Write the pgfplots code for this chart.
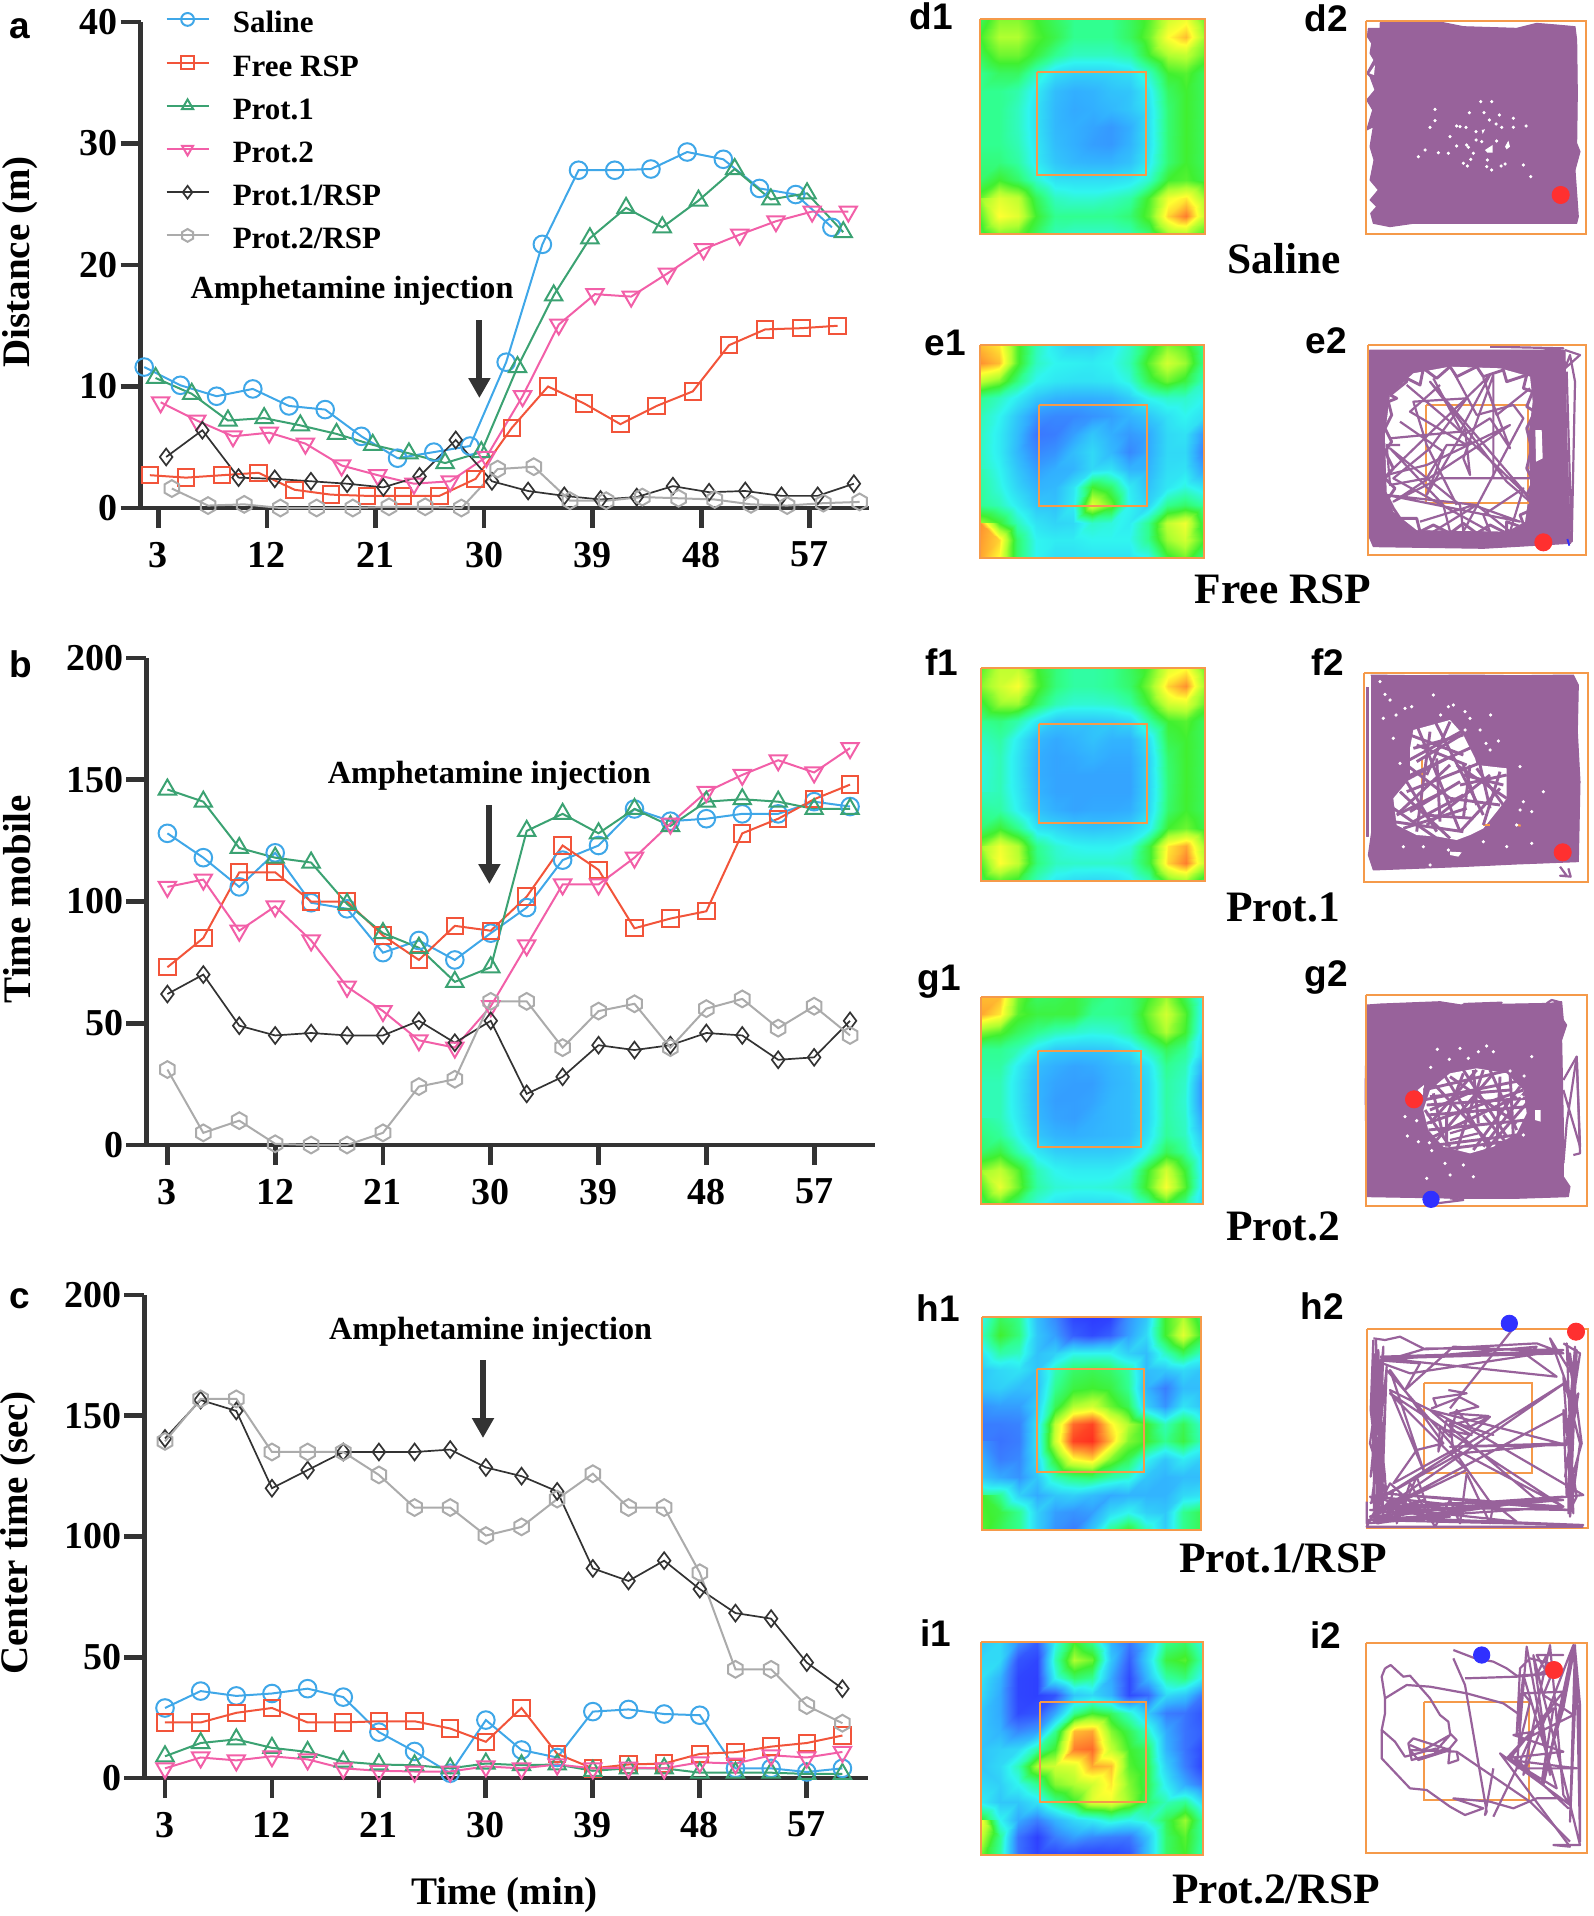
\documentclass[border=0pt]{standalone}
\usepackage{pgfplots}
\usepackage{pgfplotstable}
\usepackage{fontspec}
\pgfplotsset{compat=1.18}
\usetikzlibrary{arrows.meta}
\setmainfont{Liberation Serif}
\newfontfamily\sansb{Liberation Sans}
\definecolor{dk}{HTML}{333333}
\definecolor{csal}{HTML}{3FA7E8}
\definecolor{cfre}{HTML}{F2543A}
\definecolor{cpa}{HTML}{3BA272}
\definecolor{cpb}{HTML}{F25FA8}
\definecolor{cpc}{HTML}{333333}
\definecolor{cpd}{HTML}{ABABAB}
\definecolor{pur}{HTML}{98629B}
\definecolor{boxo}{HTML}{F59A4A}
\definecolor{dotr}{HTML}{FF3030}
\definecolor{dotb}{HTML}{3030FF}
\pgfdeclareplotmark{hexa}{%
  \pgfpathmoveto{\pgfqpointpolar{90}{\pgfplotmarksize}}%
  \pgfpathlineto{\pgfqpointpolar{150}{\pgfplotmarksize}}%
  \pgfpathlineto{\pgfqpointpolar{210}{\pgfplotmarksize}}%
  \pgfpathlineto{\pgfqpointpolar{270}{\pgfplotmarksize}}%
  \pgfpathlineto{\pgfqpointpolar{330}{\pgfplotmarksize}}%
  \pgfpathlineto{\pgfqpointpolar{30}{\pgfplotmarksize}}%
  \pgfpathclose\pgfusepathqstroke}
\pgfplotsset{
  colormap={jetx}{rgb255(0pt)=(42,44,255) rgb255(15pt)=(58,120,255) rgb255(25pt)=(50,175,255) rgb255(40pt)=(48,245,240) rgb255(50pt)=(48,255,144) rgb255(60pt)=(64,240,48) rgb255(70pt)=(176,255,48) rgb255(80pt)=(255,255,48) rgb255(90pt)=(255,144,48) rgb255(100pt)=(255,48,32)},
  sSal/.style={color=csal,line width=1pt,mark=o,mark size=4.4pt,mark options={solid,fill=none}},
  sFre/.style={color=cfre,line width=1pt,mark=square,mark size=4.1pt,mark options={solid,fill=none}},
  sPa/.style={color=cpa,line width=1pt,mark=triangle,mark size=5pt,mark options={solid,fill=none}},
  sPb/.style={color=cpb,line width=1pt,mark=triangle,mark size=5pt,mark options={solid,fill=none,rotate=180}},
  sPc/.style={color=cpc,line width=.85pt,mark=diamond,mark size=4.2pt,mark options={solid,fill=none}},
  sPd/.style={color=cpd,line width=1pt,mark=hexa,mark size=4.2pt,mark options={solid,fill=none}},
  mainax/.style={scale only axis,clip=false,axis x line=bottom,axis y line=left,
    axis line style={-,line width=2.4pt,color=dk},
    tick style={line width=2.4pt,color=dk},major tick length=10pt,tick align=outside,
    xtick={3,12,21,30,39,48,57},
    ticklabel style={font=\bfseries\fontsize{19}{19}\selectfont,color=black},
    /pgf/number format/assume math mode=true,
    xticklabel style={yshift=-3.5pt},yticklabel style={xshift=2pt}},
  heat/.style={scale only axis,hide axis,xmin=0,xmax=12,ymin=0,ymax=12,y dir=reverse,clip=false,colormap name=jetx,point meta min=0,point meta max=10},
  traj/.style={scale only axis,hide axis,width=122pt,height=115pt,xmin=0,xmax=732,ymin=0,ymax=690,y dir=reverse,clip=false},
  tr/.style={draw=pur,line width=1.1pt,line join=round,no markers},
  trw/.style={draw=pur,line width=1.45pt,line join=round,no markers},
  bl/.style={fill=pur,draw=pur,line width=.5pt,line join=round,no markers},
  ho/.style={fill=white,draw=none,no markers},
  sp/.style={only marks,mark=*,mark size=.6pt,color=white,mark options={fill=white,draw=white}},
  bx/.style={draw=boxo,line width=1.1pt,line join=miter,no markers},
  dr/.style={only marks,mark=*,mark size=4.3pt,color=dotr,mark options={fill=dotr,draw=dotr}},
  db/.style={only marks,mark=*,mark size=4.1pt,color=dotb,mark options={fill=dotb,draw=dotb}},
}
\newcommand\hm[1]{\addplot[surf,shader=interp,mesh/cols=13,point meta=explicit] table[row sep=crcr,header=false,x expr={mod(\coordindex,13)},y expr={floor(\coordindex/13)},meta index=0]{#1};}
\newcommand\frm[4]{\addplot[bx] coordinates {(0,0)(12,0)(12,12)(0,12)(0,0)};\addplot[bx] coordinates {(#1,#3)(#2,#3)(#2,#4)(#1,#4)(#1,#3)};}
\pgfplotstableread{
t sal fre pa pb pc pd
3 11.6 2.7 10.7 8.7 4.2 1.6
6 10.1 2.5 9.4 7.2 6.4 0.2
9 9.2 2.7 7.2 5.9 2.5 0.3
12 9.8 2.9 7.4 6.2 2.4 0.0
15 8.4 1.5 6.8 5.3 2.2 0.0
18 8.1 1.1 6.1 3.5 2.0 0.0
21 5.9 1.0 5.2 2.7 1.7 0.1
24 4.1 1.0 4.5 2.0 2.6 0.1
27 4.6 1.0 3.7 2.2 5.6 0.0
30 5.1 2.4 4.6 4.2 2.2 3.2
33 12.0 6.6 11.6 9.2 1.4 3.4
36 21.7 10.0 17.5 15.1 1.0 0.6
39 27.8 8.6 22.2 17.6 0.7 0.6
42 27.8 6.9 24.7 17.4 0.9 0.9
45 27.9 8.4 23.1 19.3 1.8 0.8
48 29.3 9.6 25.3 21.3 1.3 0.7
51 28.7 13.4 27.9 22.5 1.4 0.3
54 26.3 14.7 25.4 23.6 1.0 0.2
57 25.8 14.8 25.9 24.4 1.0 0.4
60 23.1 15.0 22.7 24.4 2.0 0.5
}\dataA
\pgfplotstableread{
t sal fre pa pb pc pd
3 128 73 146 106 62 31
6 118 85 141 109 70 5
9 106 112 122 88 49 10
12 120 112 118 98 45 0.5
15 99.5 100 116 84 46 0
18 97 100 99 65 45 0
21 79 86 87 55 45 5
24 84 76 81 43 51 24
27 76 90 67 40 42 27
30 87 88 73 57 51 59
33 97.5 102 129 82 21 59
36 117 123 136 107 28 40
39 123 113 128 107 41 55
42 138 89 138 118 39 58
45 133 93 131 132 41 40
48 134 96 141 145 46 56
51 136 128 142 152 45 60
54 136 134 141 158 35 48
57 141 142 138 153 36 57
60 139 148 138 163 51 45
}\dataB
\pgfplotstableread{
t sal fre pa pb pc pd
3 29 23 9 4 140.6 139.4
6 36 23 14.5 8.5 156.5 157
9 34 27 16 7.3 152 157
12 35 29 12.5 9 120 135
15 37 23 10.8 7.7 127.5 135
18 33.5 23 6.8 4 135 135
21 19 23.5 5.6 3 135 125.5
24 11 23.5 5.3 2.7 135 112
27 2 20.5 4 2.7 136 112
30 24 15 6 4.8 128.6 100.4
33 11.6 29 5.3 4 125 104
36 8.5 10 5.6 5.6 118.7 115.5
39 27.5 4 3 4 86.8 126
42 28.4 5.6 4 4.3 81.6 112
45 26.5 6 4 4 90 112
48 26 10 2.2 6.5 78.2 85
51 4 10.7 2.2 6 68.3 45
54 4 13 2.2 9.4 66 45
57 2.5 14.5 1.7 8.5 47.8 30
60 4 17.6 1.7 10.8 37 22.7
}\dataC
\begin{document}
\begin{tikzpicture}
\path[use as bounding box] (0pt,0pt) rectangle (797pt,-958pt);
% ---------- a
\begin{axis}[mainax,at={(70.3pt,-254pt)},anchor=origin,width=364pt,height=243pt,
  xmin=1.53,xmax=61.87,ymin=0,ymax=40,ytick={0,10,20,30,40},
  legend style={at={(axis cs:3.6,41.9)},anchor=north west,draw=none,fill=none,inner sep=0pt,outer sep=0pt,row sep=1.1pt,
    font=\bfseries\fontsize{15.5}{15.5}\selectfont,cells={anchor=west,text height=15pt,text depth=8pt},
    /tikz/every odd column/.append style={column sep=9.6pt}},
  legend image code/.code={\draw[mark repeat=2,mark phase=2,#1,mark size=3.2pt] plot coordinates {(0pt,0pt)(10.5pt,0pt)(21pt,0pt)};},
  legend cell align=left]
\addplot[sSal] table[x expr=\thisrow{t}-1.17,y=sal]{\dataA};
\addplot[sFre] table[x expr=\thisrow{t}-0.70,y=fre]{\dataA};
\addplot[sPa] table[x expr=\thisrow{t}-0.23,y=pa]{\dataA};
\addplot[sPb] table[x expr=\thisrow{t}+0.19,y=pb]{\dataA};
\addplot[sPc] table[x expr=\thisrow{t}+0.65,y=pc]{\dataA};
\addplot[sPd] table[x expr=\thisrow{t}+1.12,y=pd]{\dataA};
\legend{Saline,Free RSP,Prot.1,Prot.2,Prot.1/RSP,Prot.2/RSP}
\end{axis}
% ---------- b
\begin{axis}[mainax,at={(73.1pt,-572.5pt)},anchor=origin,width=364.5pt,height=243.5pt,
  xmin=1.23,xmax=62.1,ymin=0,ymax=200,ytick={0,50,100,150,200}]
\addplot[sSal] table[x=t,y=sal]{\dataB};
\addplot[sFre] table[x=t,y=fre]{\dataB};
\addplot[sPa] table[x=t,y=pa]{\dataB};
\addplot[sPb] table[x=t,y=pb]{\dataB};
\addplot[sPc] table[x=t,y=pc]{\dataB};
\addplot[sPd] table[x=t,y=pd]{\dataB};
\end{axis}
% ---------- c
\begin{axis}[mainax,at={(72.1pt,-889pt)},anchor=origin,width=362pt,height=241.5pt,
  xmin=1.25,xmax=62.17,ymin=0,ymax=200,ytick={0,50,100,150,200}]
\addplot[sSal] table[x=t,y=sal]{\dataC};
\addplot[sFre] table[x=t,y=fre]{\dataC};
\addplot[sPa] table[x=t,y=pa]{\dataC};
\addplot[sPb] table[x=t,y=pb]{\dataC};
\addplot[sPc] table[x=t,y=pc]{\dataC};
\addplot[sPd] table[x=t,y=pd]{\dataC};
\end{axis}
% ---------- heat maps
\begin{axis}[heat,at={(490pt,-9.5pt)},anchor=north west,width=112.5pt,height=107.5pt]
\hm{5.5\\6.6\\6.6\\6\\5.5\\5\\5\\5\\5.5\\6.2\\7.4\\7.8\\6.3\\
6\\7\\7\\6.2\\5.7\\5\\5\\5\\5.5\\6.4\\8\\8.6\\6.8\\
5.6\\6.4\\6.4\\5.8\\5\\4.5\\4.5\\4.5\\4.8\\6\\7\\7.2\\6.3\\
5\\5.5\\5.5\\4.5\\3.5\\3.2\\3.2\\3.3\\3.5\\4.5\\6\\6.2\\5.5\\
5\\5\\4.7\\3.8\\2.8\\2.5\\2.6\\2.9\\3\\3.8\\5.5\\6\\5.5\\
5\\5\\4.5\\3.6\\2.7\\2.4\\2.5\\2.7\\3\\3.6\\5.3\\6\\5.5\\
5\\5\\4.5\\3.6\\2.7\\2.5\\2.3\\2.1\\2.5\\3.6\\5.3\\6\\5.5\\
5\\5\\4.6\\3.7\\2.8\\2.5\\2.2\\2.1\\2.6\\3.6\\5.3\\6\\5.5\\
5\\5.2\\4.8\\3.8\\3\\2.7\\2.6\\2.6\\2.9\\3.8\\5.3\\6\\5.5\\
5.4\\6\\5.4\\4.4\\3.6\\3.5\\3.5\\3.5\\3.7\\4.4\\6\\6.2\\5.7\\
6.3\\7.6\\7.2\\5.6\\4.5\\4.3\\4.3\\4.5\\4.8\\6.1\\7.8\\8.2\\6.8\\
6.7\\8\\7.6\\6\\5\\5\\5\\5\\5.3\\6.3\\8.4\\9.2\\7.2\\
5.6\\6.6\\6.4\\5.5\\4.6\\4.4\\4.4\\4.4\\4.6\\5.3\\6.8\\7\\6\\}
\frm{3.04}{8.85}{2.96}{8.70}
\end{axis}
\begin{axis}[heat,at={(490pt,-172.5pt)},anchor=north west,width=112pt,height=106.5pt]
\hm{8.6\\8.2\\6.2\\4.6\\3.7\\3.2\\3.2\\3.7\\4.4\\5.6\\6.6\\6.2\\4.8\\
9\\8.6\\6.2\\4.5\\4\\3.9\\3.8\\4\\4.6\\6.2\\7.4\\6.8\\5\\
7.2\\6.6\\5.2\\4\\3.7\\3.6\\3.6\\3.7\\4.2\\5.6\\6.4\\5.8\\4.5\\
5\\4.5\\3.8\\3\\2.6\\2.5\\2.5\\2.6\\3.1\\4\\4.4\\4.4\\4\\
4.6\\4\\3\\2\\1.8\\1.8\\2\\2.2\\2.6\\3\\3.6\\4\\3.5\\
4.5\\3.8\\2.8\\1.5\\1.6\\2.2\\3\\2.5\\2.1\\2.4\\3.4\\3.6\\2\\
4.5\\3.8\\2.7\\1.8\\2\\2.8\\3.4\\2.7\\1.8\\2.4\\3.4\\3.4\\1.6\\
4.6\\4\\3\\2.2\\2.5\\2.6\\3.4\\3.6\\2.6\\2.6\\3.5\\3.6\\2.2\\
4.7\\4.2\\3.3\\2.6\\2.7\\3.6\\6\\5.4\\3.8\\2.9\\3.7\\4.2\\3.6\\
5\\4.6\\3.8\\3\\2.9\\3.8\\7.6\\6.4\\4\\3.3\\5\\5.4\\4.8\\
6.8\\6\\4.6\\3.6\\3.3\\3.4\\4.4\\4.2\\3.8\\5\\7.2\\7.8\\5.6\\
9\\8.4\\5.4\\4\\3.8\\3.8\\4\\4\\4\\5\\6.8\\7.4\\6\\
8.8\\8\\5.4\\4\\3.5\\3.5\\3.6\\3.6\\3.6\\4\\5.8\\6.4\\5\\}
\frm{3.16}{8.95}{3.38}{9.07}
\end{axis}
\begin{axis}[heat,at={(490.5pt,-334pt)},anchor=north west,width=112pt,height=106.5pt]
\hm{6.2\\7.2\\7.2\\6\\5.2\\4.8\\4.8\\5\\5.5\\6.2\\7.6\\8\\6.3\\
6.6\\7.4\\7.9\\6.2\\5.2\\4.8\\4.8\\5\\5.4\\6.6\\8.4\\9\\6.8\\
5.8\\6.8\\6.8\\5.5\\4.6\\4.3\\4.3\\4.4\\4.8\\6\\7.4\\7.6\\6.3\\
5\\5.2\\4.7\\3.7\\3\\3\\3\\3.1\\3.4\\4.8\\6\\6.2\\5.5\\
4.5\\4.8\\3.8\\2.7\\2.4\\2.6\\2.9\\2.6\\2.6\\3.6\\5.7\\6\\5.5\\
4.2\\4.6\\3.6\\2.5\\2.3\\2.4\\2.6\\2.4\\2.4\\3.3\\5.4\\6\\5.5\\
4.2\\4.6\\3.6\\2.5\\2.3\\2.3\\2.3\\2.3\\2.3\\3.3\\5.3\\6\\5.5\\
4.3\\4.6\\3.7\\2.6\\2.3\\2.3\\2.3\\2.3\\2.3\\3.3\\5.3\\6\\5.5\\
4.5\\4.8\\3.9\\2.9\\2.5\\2.3\\2.4\\2.4\\2.5\\3.4\\5.4\\6\\5.5\\
5.3\\5.9\\5\\3.6\\3.3\\3\\2.9\\3\\3.2\\3.9\\6\\6.4\\5.7\\
6.6\\7.8\\7\\5\\4.3\\4\\3.9\\3.9\\4.2\\5.8\\8.2\\8.8\\6.8\\
6.8\\8\\7.2\\5.2\\4.5\\4.4\\4.4\\4.4\\4.6\\5.8\\8.4\\9.2\\7.2\\
5.5\\6.2\\5.8\\4.5\\3.7\\3.4\\3.3\\3.4\\3.8\\4.6\\6.4\\6.8\\5.5\\}
\frm{3.11}{8.89}{3.15}{8.73}
\end{axis}
\begin{axis}[heat,at={(490.5pt,-498.5pt)},anchor=north west,width=111pt,height=103.5pt]
\hm{8.6\\8.6\\6.4\\5.5\\5.6\\5.8\\5.3\\5\\5.2\\6\\6.8\\5.6\\3.8\\
8.8\\8.2\\6.2\\5.8\\5.8\\5.8\\5\\5\\5.2\\6.4\\7.4\\6.2\\3.8\\
6.6\\6.2\\5.5\\5\\4.6\\4.4\\4.2\\4.3\\4.8\\6\\7\\6\\3.6\\
5\\5\\4.6\\3.7\\3.1\\3\\3\\3.1\\3.5\\4.6\\5.6\\5\\3.4\\
4.8\\4.8\\3.8\\2.8\\2.5\\2.3\\2.4\\2.7\\2.9\\3.6\\5\\4.6\\2.4\\
4.6\\4.6\\3.6\\2.6\\2.3\\2.2\\2.2\\2.6\\2.8\\3.4\\4.8\\4.4\\1.8\\
4.6\\4.6\\3.6\\2.6\\2.2\\2.2\\2.3\\2.7\\2.8\\3.4\\4.8\\4.3\\1.8\\
4.6\\4.6\\3.7\\2.7\\2.3\\2.2\\2.5\\2.7\\2.8\\3.4\\4.8\\4.4\\2.2\\
4.9\\4.9\\4\\3\\2.6\\2.5\\2.6\\2.7\\2.8\\3.6\\4.9\\4.5\\2.8\\
5.4\\5.8\\4.7\\3.7\\3.2\\3.1\\3.1\\3.1\\3.3\\4.2\\5.6\\4.9\\3.4\\
6.6\\7.2\\6.2\\4.6\\4\\3.8\\3.8\\3.8\\4.2\\6\\7.4\\5.9\\3.6\\
6.8\\7.7\\6.4\\4.8\\4.3\\4.2\\4.2\\4.3\\4.6\\6.2\\7.9\\6.2\\3.6\\
5.5\\6.2\\5.2\\4.2\\3.6\\3.4\\3.4\\3.4\\3.7\\4.8\\6\\5\\3.4\\}
\frm{3.08}{8.65}{3.13}{8.70}
\end{axis}
\begin{axis}[heat,at={(491pt,-658.5pt)},anchor=north west,width=109.5pt,height=106.5pt]
\hm{4\\5.5\\5\\2.8\\1.8\\0.5\\0.3\\0.4\\2\\3\\6\\7\\5.5\\
4.5\\6\\5.2\\3\\2.2\\1\\0.6\\1\\2.2\\3.4\\6\\7.6\\6\\
3.7\\4.8\\4.5\\2.9\\3.2\\4\\4\\4\\3.2\\2.8\\4.5\\5.6\\4.5\\
3\\3.4\\3.6\\3\\4.6\\5.4\\5.6\\5.4\\4.8\\2.8\\3\\3.4\\3\\
3\\3.2\\2.8\\2.9\\5\\5.8\\6\\5.8\\5\\2.6\\1.6\\2.8\\2.8\\
2\\2.2\\2.2\\3.2\\5.6\\7\\7.4\\6.4\\5.6\\3.2\\2\\3.6\\3\\
1.6\\1.6\\1.7\\3.6\\7.2\\9.4\\9.8\\8.2\\7\\6\\4.6\\5.6\\4.4\\
1.6\\1.4\\1.6\\3.6\\7.4\\9.8\\10\\8.6\\6.6\\6\\5\\5.8\\4.6\\
2\\1.6\\1.8\\3.4\\6\\8\\8.4\\6.6\\5.6\\4\\3\\3.8\\3.2\\
3\\2.4\\2\\3\\4.6\\5.2\\5.4\\4.8\\4.4\\3\\2.6\\2.8\\2.8\\
5\\5\\3.2\\2.4\\3\\3.2\\2.8\\2.4\\2.6\\2.6\\2.6\\3.4\\3.6\\
6\\5.8\\5\\3.2\\2.2\\2\\2.2\\3.4\\4\\3.2\\3\\5\\5.6\\
6.2\\5.6\\5\\3.2\\2\\1.6\\3\\5\\6\\4.6\\3.2\\5\\5.6\\}
\frm{3.01}{8.88}{2.93}{8.73}
\end{axis}
\begin{axis}[heat,at={(490.5pt,-821pt)},anchor=north west,width=111pt,height=106.5pt]
\hm{3\\3.4\\2\\1\\4\\6\\5\\2.6\\1.5\\3\\5\\5.4\\4\\
3.4\\3.4\\0.8\\0.5\\4.6\\7\\6.4\\3\\1\\3.4\\5.8\\6.2\\4.6\\
3.6\\2.6\\0.5\\0.4\\4\\5.4\\5\\2.4\\0.6\\2.8\\4.8\\5.2\\3.8\\
3.4\\2.4\\0.5\\0.4\\0.8\\3\\3.4\\2.6\\0.6\\1.2\\3.4\\3\\1.5\\
3\\2.4\\0.6\\0.8\\2.4\\5\\6\\5.5\\4.4\\3\\1.6\\1.4\\0.8\\
3\\2.6\\1.8\\2.2\\5\\8.6\\8.8\\6.6\\5.6\\4.4\\2.4\\1.4\\1\\
3\\3.2\\3.4\\4.8\\6\\9.2\\9.4\\7.2\\6\\5.4\\2.6\\1.4\\0.5\\
3\\3.4\\4.6\\7\\7.4\\7.6\\8.8\\8.6\\6.2\\5.6\\3.2\\1.6\\0.4\\
3\\3.2\\4\\5\\6.6\\7\\7.4\\8.2\\6.6\\5.6\\3.8\\2.4\\1.4\\
3.8\\3\\3\\3.6\\5\\6\\7.6\\7.8\\6.8\\5.4\\4.6\\5\\3.4\\
6\\4\\2.4\\1.6\\2.6\\3.4\\3.8\\4.4\\4\\4.4\\5.6\\6.8\\4.8\\
8\\5\\1.4\\0.4\\1.6\\2.2\\1.8\\1.6\\1.5\\3\\5.4\\6.2\\4.8\\
6.5\\4.8\\1.4\\0.5\\0.5\\0.5\\0.4\\0.5\\0.8\\3\\5.4\\6\\4.6\\}
\frm{3.19}{8.92}{3.38}{9.01}
\end{axis}
% ---------- d2
\begin{axis}[traj,at={(675pt,-5pt)},anchor=north west]
\addplot[bl] coordinates {(90,38)(280,38)(340,50)(500,55)(560,40)(620,45)(675,50)(680,90)(682,250)(680,400)(690,425)(675,480)(685,620)(680,640)(540,640)(400,640)(300,640)(190,640)(120,650)(70,640)(62,610)(80,590)(60,570)(85,540)(60,510)(72,450)(60,410)(70,350)(50,360)(68,300)(50,270)(75,240)(60,200)(50,190)(72,150)(60,130)(65,100)(52,80)(55,55)(90,55)(90,38)};
\addplot[ho] coordinates {(58,190)(75,165)(72,195)};
\addplot[ho] coordinates {(395,360)(405,358)(398,372)};
\addplot[ho] coordinates {(405,420)(428,405)(428,428)(412,428)};
\addplot[ho] coordinates {(465,410)(475,392)(480,410)(470,418)};
\addplot[sp] coordinates {(425,275)(392,275)(358,308)(402,308)(255,298)(255,332)(240,352)(348,352)(320,348)(330,350)(378,365)(378,390)(395,395)(440,393)(455,352)(490,352)(528,348)(490,325)(418,330)(438,342)(448,315)(300,380)(320,408)(350,405)(355,412)(370,430)(225,420)(205,440)(340,460)(362,448)(352,468)(412,450)(410,470)(425,480)(453,468)(465,462)(520,465)(542,500)(295,430)(265,428)};
\addplot[bx] coordinates {(48,33)(708,33)(708,672)(48,672)(48,33)};
\addplot[dr] coordinates {(632,555)};
\end{axis}
% ---------- e2
\begin{axis}[traj,at={(675pt,-167.5pt)},anchor=north west]
\addplot[bl] coordinates {(58,45)(645,45)(650,300)(662,625)(400,640)(70,635)(55,600)(55,45)};
\addplot[ho] coordinates {(190,115)(300,95)(450,100)(540,125)(548,200)(535,300)(540,450)(525,560)(470,590)(200,585)(130,530)(110,470)(105,300)(120,180)};
\addplot[ho] coordinates {(556,285)(575,285)(578,370)(558,380)};
\addplot[bx] coordinates {(228,210)(535,210)(535,505)(228,505)(228,210)};
\addplot[trw] coordinates {(120,180)(170,140)(150,120)(210,150)(220,100)(260,130)(300,95)(320,125)(380,95)(400,125)(460,105)(470,140)(530,120)(520,160)(548,170)(530,215)(555,230)(530,280)(545,340)(530,400)(550,440)(530,480)(555,520)(510,540)(525,580)(470,560)(470,595)(420,570)(380,595)(340,565)(300,595)(250,570)(210,590)(200,550)(150,550)(130,520)(115,490)(135,460)(105,430)(130,400)(105,350)(125,320)(105,280)(125,240)(115,200)(140,190)(120,180)};
\addplot[tr] coordinates {(170,150)(300,260)(540,490)(240,140)(470,440)(540,500)};
\addplot[tr] coordinates {(120,310)(330,290)(420,120)(110,420)(230,390)(480,270)(130,500)(270,430)(540,430)};
\addplot[tr] coordinates {(250,130)(340,300)(420,250)(480,340)(400,130)(440,240)(540,160)};
\addplot[tr] coordinates {(210,560)(340,520)(370,510)(510,560)(110,480)(380,510)(250,590)};
\addplot[tr] coordinates {(150,260)(280,350)(230,480)(345,280)(360,420)(340,370)(430,120)(430,430)};
\addplot[tr] coordinates {(310,110)(380,240)(490,210)(520,250)(340,590)(330,510)(120,340)(280,510)(300,590)};
\addplot[tr] coordinates {(380,510)(480,590)(520,460)(400,540)(420,590)(130,430)(240,340)(350,190)(190,200)(230,330)(320,510)};
\addplot[tr] coordinates {(270,150)(180,230)(350,330)(290,330)(230,430)(120,450)(110,330)(150,330)};
\addplot[tr] coordinates {(645,45)(690,60)(645,100)(660,60)(675,140)(665,620)(650,110)};
\addplot[tr] coordinates {(420,35)(640,40)(560,50)};
\addplot[bx] coordinates {(55,30)(708,30)(708,660)(55,660)(55,30)};
\addplot[dr] coordinates {(580,622)};
\addplot[draw=dotb,line width=.9pt,no markers] coordinates {(652,612)(658,632)};
\end{axis}
% ---------- f2
\begin{axis}[traj,at={(675pt,-332.5pt)},anchor=north west]
\addplot[bl] coordinates {(62,30)(200,32)(350,30)(500,32)(670,30)(685,60)(682,200)(690,350)(685,590)(500,597)(330,605)(70,615)(55,570)(65,500)(65,30)};
\addplot[bl] coordinates {(50,65)(50,515)(55,515)(55,65)};
\addplot[tr] coordinates {(630,605)(650,632)(630,632)(662,635)(655,610)};
\addplot[ho] coordinates {(190,195)(300,165)(340,210)(375,280)(380,300)(470,310)(470,400)(440,440)(400,490)(360,510)(320,525)(265,515)(200,510)(140,480)(130,400)(180,340)(180,250)};
\addplot[ho] coordinates {(300,560)(335,562)(325,575)(300,570)};
\addplot[draw=boxo,line width=1pt,no markers] coordinates {(215,280)(215,440)};
\addplot[draw=boxo,line width=1pt,no markers] coordinates {(400,480)(420,480)};
\addplot[draw=boxo,line width=1pt,no markers] coordinates {(500,480)(512,482)};
\addplot[trw] coordinates {(150,300)(370,180)};
\addplot[trw] coordinates {(160,340)(380,240)};
\addplot[trw] coordinates {(170,380)(400,290)};
\addplot[trw] coordinates {(200,180)(330,500)};
\addplot[trw] coordinates {(250,160)(400,450)};
\addplot[trw] coordinates {(150,380)(300,520)};
\addplot[trw] coordinates {(130,430)(260,520)};
\addplot[trw] coordinates {(320,300)(470,400)};
\addplot[trw] coordinates {(330,360)(470,330)};
\addplot[trw] coordinates {(340,300)(380,420)};
\addplot[trw] coordinates {(390,300)(420,430)};
\addplot[trw] coordinates {(300,400)(450,420)};
\addplot[trw] coordinates {(220,450)(370,460)};
\addplot[trw] coordinates {(180,440)(330,350)};
\addplot[trw] coordinates {(230,480)(420,330)};
\addplot[trw] coordinates {(140,450)(280,380)};
\addplot[trw] coordinates {(170,300)(300,400)};
\addplot[trw] coordinates {(200,240)(350,300)};
\addplot[trw] coordinates {(330,500)(450,370)};
\addplot[trw] coordinates {(160,490)(350,430)};
\addplot[trw] coordinates {(300,170)(230,330)};
\addplot[trw] coordinates {(260,280)(270,470)};
\addplot[trw] coordinates {(170,350)(260,500)};
\addplot[trw] coordinates {(180,210)(340,270)};
\addplot[trw] coordinates {(200,290)(350,200)};
\addplot[trw] coordinates {(190,250)(340,210)};
\addplot[trw] coordinates {(130,470)(340,500)};
\addplot[trw] coordinates {(190,470)(340,390)};
\addplot[trw] coordinates {(150,440)(300,300)};
\addplot[trw] coordinates {(360,300)(340,460)};
\addplot[trw] coordinates {(450,320)(400,480)};
\addplot[trw] coordinates {(240,200)(200,500)};
\addplot[trw] coordinates {(340,330)(460,360)};
\addplot[trw] coordinates {(380,310)(460,420)};
\addplot[trw] coordinates {(140,360)(290,280)};
\addplot[sp] coordinates {(90,50)(105,88)(120,105)(138,150)(165,130)(185,125)(250,90)(272,150)(295,125)(310,120)(345,140)(360,160)(390,195)(422,150)(408,235)(445,228)(420,255)(510,305)(520,410)(510,435)(580,380)(545,440)(500,480)(160,545)(470,545)(545,535)(130,220)(150,295)(100,160)(240,600)(220,545)(295,555)(400,530)(345,195)};
\addplot[bx] coordinates {(43,25)(715,25)(715,650)(43,650)(43,25)};
\addplot[dr] coordinates {(638,562)};
\end{axis}
% ---------- g2
\begin{axis}[traj,at={(675pt,-495pt)},anchor=north west]
\addplot[db] coordinates {(243,628)};
\addplot[bl] coordinates {(50,45)(90,42)(270,35)(335,45)(600,40)(635,35)(640,90)(650,105)(635,150)(640,400)(640,560)(660,590)(655,620)(500,625)(340,625)(50,620)(45,300)(50,45)};
\addplot[tr] coordinates {(640,270)(680,200)(690,490)(670,495)};
\addplot[tr] coordinates {(640,300)(690,470)(680,200)(650,400)(640,520)};
\addplot[tr] coordinates {(335,45)(455,38)(340,42)};
\addplot[tr] coordinates {(590,40)(605,30)(635,38)};
\addplot[tr] coordinates {(260,640)(340,630)(300,625)};
\addplot[ho] coordinates {(240,300)(300,250)(380,235)(470,250)(520,300)(530,370)(500,430)(430,470)(360,490)(280,470)(235,420)(220,360)};
\addplot[ho] coordinates {(555,360)(572,360)(572,395)(555,390)};
\addplot[ho] coordinates {(203,300)(222,285)(218,315)};
\addplot[trw] coordinates {(220,330)(520,270)};
\addplot[trw] coordinates {(220,300)(480,240)};
\addplot[trw] coordinates {(230,345)(530,325)};
\addplot[trw] coordinates {(230,375)(300,370)(530,350)};
\addplot[trw] coordinates {(235,420)(530,390)};
\addplot[trw] coordinates {(260,465)(500,435)};
\addplot[trw] coordinates {(280,478)(470,455)};
\addplot[trw] coordinates {(280,250)(420,480)};
\addplot[trw] coordinates {(340,240)(470,440)};
\addplot[trw] coordinates {(420,240)(500,420)};
\addplot[trw] coordinates {(240,400)(380,240)};
\addplot[trw] coordinates {(260,450)(430,250)};
\addplot[trw] coordinates {(370,480)(510,290)};
\addplot[trw] coordinates {(290,470)(290,380)(340,250)};
\addplot[tr] coordinates {(300,430)(385,405)};
\addplot[tr] coordinates {(300,450)(385,430)};
\addplot[trw] coordinates {(225,360)(300,470)};
\addplot[trw] coordinates {(250,310)(280,440)};
\addplot[trw] coordinates {(480,250)(490,440)};
\addplot[trw] coordinates {(530,300)(400,470)};
\addplot[trw] coordinates {(450,260)(440,470)};
\addplot[trw] coordinates {(240,320)(480,300)};
\addplot[trw] coordinates {(250,440)(500,320)};
\addplot[trw] coordinates {(230,400)(520,300)};
\addplot[trw] coordinates {(300,260)(500,400)};
\addplot[trw] coordinates {(250,280)(420,460)};
\addplot[trw] coordinates {(370,240)(385,400)};
\addplot[trw] coordinates {(400,490)(530,340)};
\addplot[trw] coordinates {(320,480)(400,240)};
\addplot[trw] coordinates {(400,375)(470,460)};
\addplot[trw] coordinates {(240,360)(400,290)};
\addplot[sp] coordinates {(262,178)(298,208)(355,205)(242,232)(480,243)(522,258)(515,320)(545,200)(200,392)(172,438)(238,458)(205,455)(245,482)(285,520)(340,525)(300,555)(230,565)(370,560)(520,435)(410,168)(430,185)(330,175)(385,185)(165,380)};
\addplot[draw=boxo,line width=1pt,no markers] coordinates {(48,100)(48,150)};
\addplot[bx] coordinates {(47,15)(710,15)(710,647)(47,647)(47,15)};
\addplot[dr] coordinates {(192,328)};
\end{axis}
% ---------- h2
\begin{axis}[traj,at={(675pt,-655pt)},anchor=north west]
\addplot[bx] coordinates {(52,58)(715,58)(715,655)(52,655)(52,58)};
\addplot[bx] coordinates {(222,218)(547,218)(547,490)(222,490)(222,218)};
\addplot[tr] coordinates {(490,55)(300,295)};
\addplot[tr] coordinates {(295,240)(350,250)(250,265)(260,290)(245,295)(330,262)(385,290)(300,310)(415,318)(320,340)(430,375)(290,330)(265,425)(270,350)(300,380)(320,300)(360,350)(420,320)(310,420)(300,340)(365,375)(285,360)};
\addplot[tr] coordinates {(70,85)(105,90)(150,80)(225,118)(560,100)(640,130)(100,145)(620,200)(530,135)(560,110)(110,150)(230,115)(640,120)(180,190)(70,150)(210,160)(165,240)(310,110)(600,125)(90,140)};
\addplot[tr] coordinates {(70,90)(62,300)(100,620)(85,120)(70,560)(110,170)(95,600)(66,200)(75,620)(105,300)(80,600)(95,140)(60,400)(110,560)(70,130)(85,640)(100,110)(62,500)(90,280)(75,150)(68,450)(100,400)(80,200)(72,600)(78,90)(92,560)(64,250)(88,610)(68,340)(105,500)(72,180)(96,350)(64,580)};
\addplot[tr] coordinates {(110,180)(320,420)(640,590)(120,250)(350,480)(60,620)(640,310)(80,610)(650,215)(100,560)(330,430)(650,400)(300,410)(650,405)(240,300)(560,570)(700,555)(400,380)(120,240)(220,480)(120,180)(280,400)(200,420)(130,520)(310,420)(430,590)};
\addplot[tr] coordinates {(640,100)(690,130)(650,400)(680,120)(660,620)(690,400)(640,200)(670,610)(650,100)(680,300)(660,130)(695,400)(650,560)(640,300)(680,560)(655,610)(660,250)(600,85)(670,200)(660,450)(675,110)(655,350)(685,250)(645,500)(670,330)};
\addplot[tr] coordinates {(50,575)(50,640)(300,620)(60,600)(640,560)(80,640)(430,580)(60,620)(700,645)(50,630)(640,590)(100,550)(660,600)(80,590)(500,635)(430,580)(420,640)(350,490)(330,640)(300,570)(255,650)(180,520)(140,640)(200,500)(250,640)(120,520)(50,650)(700,650)};
\addplot[tr] coordinates {(60,580)(130,540)(110,620)(160,560)(90,600)(200,590)(120,570)(70,630)(240,600)(100,590)(300,580)(640,570)(140,610)(360,590)(80,560)(180,600)(70,610)(150,580)(60,560)(120,600)(220,570)(90,630)};
\addplot[db] coordinates {(478,40)};
\addplot[dr] coordinates {(678,65)};
\end{axis}
% ---------- i2
\begin{axis}[traj,at={(675pt,-817.5pt)},anchor=north west]
\addplot[bx] coordinates {(48,25)(710,25)(710,653)(48,653)(48,25)};
\addplot[bx] coordinates {(222,202)(537,202)(537,495)(222,495)(222,202)};
\addplot[tr] coordinates {(310,45)(370,68)(430,80)(470,100)(500,122)(610,115)};
\addplot[tr] coordinates {(105,100)(122,90)(160,125)(180,122)(240,190)(270,240)(295,260)(300,295)(320,315)(295,345)(185,375)(175,325)(190,310)(300,345)(205,375)(180,345)(320,350)(325,375)(295,385)(300,340)(255,350)(300,300)(230,340)(215,345)(180,330)};
\addplot[tr] coordinates {(105,100)(95,125)(105,190)(105,235)(95,285)(135,320)(165,365)(260,340)};
\addplot[tr] coordinates {(105,190)(170,150)(240,155)(350,175)(460,205)(510,240)};
\addplot[tr] coordinates {(95,285)(95,370)(180,460)(230,465)(300,515)(345,540)(400,520)(310,490)(420,500)(490,520)(560,490)(620,490)};
\addplot[tr] coordinates {(320,350)(540,500)(660,620)};
\addplot[tr] coordinates {(310,70)(345,150)(410,530)(405,540)(430,400)};
\addplot[tr] coordinates {(345,130)(500,125)(610,115)};
\addplot[tr] coordinates {(430,545)(500,400)(530,35)(600,420)(550,60)(690,630)(610,630)(660,635)(450,355)(660,510)(640,480)(600,30)(570,170)(520,420)(670,30)(580,450)(675,40)(690,210)(690,620)(680,100)(660,560)(675,30)(640,220)(575,440)(610,220)(470,370)(640,350)(490,300)(550,290)(500,400)(680,400)(480,375)(620,460)(520,120)(500,300)(510,100)(540,70)(620,90)(560,120)(590,60)(640,60)(560,60)(600,130)(580,180)(670,240)(510,320)(540,200)(520,175)(640,170)(480,370)(580,450)(655,520)(480,355)};
\addplot[db] coordinates {(395,60)};
\addplot[dr] coordinates {(612,105)};
\end{axis}
% ---------- annotations
\tikzset{amp/.style={font=\bfseries\fontsize{16.1}{16.1}\selectfont},arr/.style={line width=3pt,color=dk,-{Triangle[width=10.5pt,length=10pt]}},
 ylab/.style={rotate=90,font=\bfseries\fontsize{19.5}{19.5}\selectfont},
 pl/.style={font=\sansb\bfseries\fontsize{18.5}{18.5}\selectfont},
 gl/.style={font=\bfseries\fontsize{21.7}{21.7}\selectfont}}
\node[amp] at (176pt,-145.5pt) {Amphetamine injection};
\draw[arr] (239.7pt,-160pt) -- (239.7pt,-199pt);
\node[amp] at (244.7pt,-387.7pt) {Amphetamine injection};
\draw[arr] (244.7pt,-402.5pt) -- (244.7pt,-442pt);
\node[amp] at (245.3pt,-666pt) {Amphetamine injection};
\draw[arr] (241.5pt,-680pt) -- (241.5pt,-719pt);
\node[ylab] at (10pt,-131pt) {Distance (m)};
\node[ylab] at (8.5pt,-449.5pt) {Time mobile};
\node[ylab] at (9pt,-766.5pt) {Center time (sec)};
\node[font=\bfseries\fontsize{19.5}{19.5}\selectfont] at (252.3pt,-947.5pt) {Time (min)};
\node[pl] at (10pt,-14.5pt) {a};
\node[pl] at (10.5pt,-332pt) {b};
\node[pl] at (10pt,-649.5pt) {c};
\node[pl] at (465.5pt,-8pt) {d1}; \node[pl] at (663pt,-9pt) {d2};
\node[pl] at (472.5pt,-171.5pt) {e1}; \node[pl] at (663pt,-170.5pt) {e2};
\node[pl] at (471pt,-331pt) {f1}; \node[pl] at (664pt,-331pt) {f2};
\node[pl] at (469.5pt,-491pt) {g1}; \node[pl] at (663pt,-488.5pt) {g2};
\node[pl] at (469pt,-654pt) {h1}; \node[pl] at (661pt,-653pt) {h2};
\node[pl] at (468pt,-816.5pt) {i1}; \node[pl] at (663pt,-817.5pt) {i2};
\node[gl] at (642pt,-129.5pt) {Saline};
\node[gl] at (641.5pt,-294.5pt) {Free RSP};
\node[gl] at (641.5pt,-453.5pt) {Prot.1};
\node[gl] at (641.5pt,-613pt) {Prot.2};
\node[gl] at (641.5pt,-779pt) {Prot.1/RSP};
\node[gl] at (638pt,-944.5pt) {Prot.2/RSP};
\end{tikzpicture}
\end{document}
